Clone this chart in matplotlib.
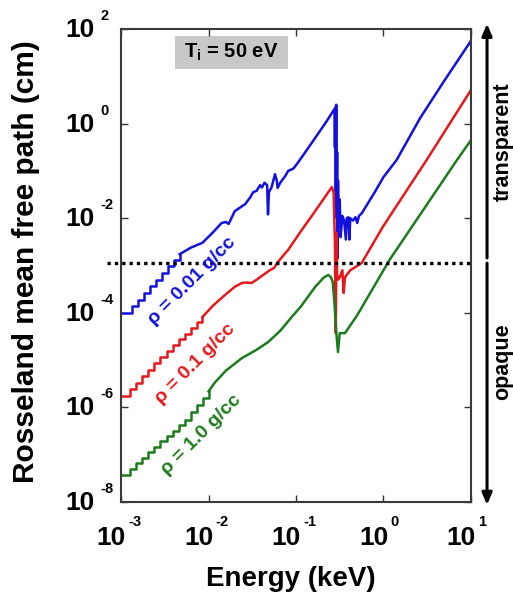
import numpy as np
import matplotlib
matplotlib.use('Agg')
import matplotlib.pyplot as plt
from matplotlib.patches import Rectangle
from matplotlib.ticker import NullLocator

plt.rcParams['font.family'] = ['Liberation Sans', 'DejaVu Sans']
plt.rcParams['font.weight'] = 'bold'
plt.rcParams['mathtext.fontset'] = 'custom'
plt.rcParams['mathtext.rm'] = 'Liberation Sans:bold'
plt.rcParams['mathtext.it'] = 'Liberation Sans:bold'
plt.rcParams['mathtext.bf'] = 'Liberation Sans:bold'

# all values are log10(energy / keV) and log10(mean free path / cm)

# rho = 0.01 g/cc
blue_step_e = [-3.0, -2.88, -2.81, -2.74, -2.67, -2.60, -2.53, -2.46, -2.39, -2.33]
blue_step_l = [-4.0, -3.86, -3.72, -3.58, -3.44, -3.30, -3.16, -3.02, -2.88, -2.76]
blue_e = [-2.33, -2.20, -2.07, -1.95, -1.85, -1.80, -1.77, -1.70, -1.62, -1.58, -1.52,
          -1.49, -1.45, -1.41, -1.39, -1.36, -1.33, -1.32, -1.31, -1.28, -1.24, -1.22,
          -1.21, -1.18, -1.12, -1.09, -1.03, -0.98, -0.90, -0.78, -0.65, -0.56, -0.555,
          -0.55, -0.545, -0.54, -0.535, -0.53, -0.525, -0.52, -0.51, -0.50, -0.49, -0.47,
          -0.45, -0.43, -0.42, -0.40, -0.39, -0.38, -0.35, -0.32, -0.30, -0.28, -0.25,
          -0.20, -0.10, 0.0, 0.15, 0.42, 0.70, 1.0]
blue_l = [-2.76, -2.62, -2.52, -2.30, -2.10, -2.08, -2.12, -1.85, -1.75, -1.70, -1.55,
          -1.45, -1.42, -1.30, -1.35, -1.25, -1.30, -1.92, -1.45, -1.35, -1.07, -1.20,
          -1.36, -1.25, -1.10, -1.00, -0.95, -0.83, -0.62, -0.30, 0.05, 0.31, -0.50,
          0.35, -1.50, 0.40, -2.00, -0.60, -2.85, -1.20, -2.20, -1.60, -2.40, -1.95,
          -2.05, -2.45, -2.00, -1.98, -2.45, -2.00, -2.05, -1.98, -2.10, -1.95, -1.90,
          -1.75, -1.45, -1.13, -0.77, 0.12, 0.92, 1.75]

# rho = 0.1 g/cc
red_step_e = [-3.0, -2.90, -2.83, -2.76, -2.69, -2.62, -2.55, -2.48, -2.41, -2.34,
              -2.27, -2.20, -2.13, -2.07]
red_step_l = [-5.76, -5.62, -5.48, -5.34, -5.20, -5.07, -4.94, -4.81, -4.68, -4.56,
              -4.44, -4.32, -4.20, -4.09]
red_e = [-2.07, -1.95, -1.81, -1.70, -1.62, -1.57, -1.51, -1.45, -1.39, -1.30, -1.25,
         -1.21, -1.09, -0.95, -0.80, -0.59, -0.57, -0.555, -0.545, -0.54, -0.535, -0.53,
         -0.52, -0.50, -0.47, -0.455, -0.44, -0.38, -0.25, -0.01, 0.50, 1.0]
red_l = [-4.09, -3.85, -3.62, -3.45, -3.37, -3.36, -3.37, -3.30, -3.22, -3.10, -3.05,
         -2.93, -2.67, -2.29, -1.90, -1.34, -1.45, -2.50, -4.43, -3.00, -2.31, -3.20,
         -3.30, -3.25, -3.10, -3.58, -3.25, -3.10, -2.95, -2.19, -0.75, 0.71]

# rho = 1.0 g/cc
green_step_e = [-3.0, -2.90, -2.83, -2.76, -2.69, -2.62, -2.55, -2.48, -2.41, -2.34,
                -2.27, -2.20, -2.13, -2.06, -2.0]
green_step_l = [-7.43, -7.30, -7.18, -7.06, -6.95, -6.84, -6.72, -6.60, -6.49, -6.38,
                -6.26, -6.10, -5.95, -5.80, -5.66]
green_e = [-2.0, -1.93, -1.80, -1.62, -1.45, -1.32, -1.18, -1.05, -0.95, -0.78, -0.68,
           -0.63, -0.60, -0.58, -0.56, -0.54, -0.52, -0.50, -0.44, -0.30, 0.07, 0.84, 1.0]
green_l = [-5.66, -5.48, -5.22, -4.96, -4.78, -4.62, -4.38, -4.09, -3.88, -3.45, -3.25,
           -3.20, -3.25, -3.35, -3.80, -4.40, -4.83, -4.43, -4.43, -4.05, -2.88, -0.77, -0.35]

labels = ['\u03c1 = 0.01 g/cc', '\u03c1 = 0.1 g/cc', '\u03c1 = 1.0 g/cc']
label_pos = [(-2.25, -3.22), (-2.21, -4.98), (-2.14, -6.48)]
colors = ['#1212dc', '#e5191c', '#1c7c1c']

threshold = 10 ** -2.95
x_exps = [-3, -2, -1, 0, 1]
y_exps = [-8, -6, -4, -2, 0, 2]

fig = plt.figure(figsize=(5.13, 5.93), dpi=100)
ax = fig.add_axes([0.236, 0.1535, 0.682, 0.7975])

series = [(blue_step_e, blue_step_l, blue_e, blue_l),
          (red_step_e, red_step_l, red_e, red_l),
          (green_step_e, green_step_l, green_e, green_l)]
for (se, sl, me, ml), c in zip(series, colors):
    ax.plot(10 ** np.array(se), 10 ** np.array(sl), color=c, lw=1.8, drawstyle='steps-post')
    ax.plot(10 ** np.array(me), 10 ** np.array(ml), color=c, lw=1.8)

# density labels sit just under each staircase
for txt, (le, ll), c in zip(labels, label_pos, colors):
    ax.annotate(txt, xy=(10 ** le, 10 ** ll), xytext=(5, -5), textcoords='offset pixels',
                color=c, fontsize=14, rotation=45, rotation_mode='anchor',
                ha='center', va='center')

ax.set_xscale('log')
ax.set_yscale('log')
ax.set_xlim(10.0 ** x_exps[0], 10.0 ** x_exps[-1])
ax.set_ylim(10.0 ** y_exps[0], 10.0 ** y_exps[-1])
ax.set_xticks([10.0 ** k for k in x_exps])
ax.set_yticks([10.0 ** k for k in y_exps])
ax.xaxis.set_minor_locator(NullLocator())
ax.yaxis.set_minor_locator(NullLocator())
ax.tick_params(direction='in', top=True, right=True, length=5, width=1,
               color='#333333', labelbottom=False, labelleft=False)
for sp in ax.spines.values():
    sp.set_color('#3a3a3a')
    sp.set_linewidth(1.5)

# tick labels written as "10" plus a small exponent
for k in x_exps:
    ax.annotate('10', xy=(10.0 ** k, 0), xycoords=ax.get_xaxis_transform(),
                xytext=(5, -36), textcoords='offset pixels', ha='right', va='center',
                fontsize=19, annotation_clip=False)
    ax.annotate(str(k), xy=(10.0 ** k, 0), xycoords=ax.get_xaxis_transform(),
                xytext=(7, -20), textcoords='offset pixels', ha='left', va='center',
                fontsize=10.5, annotation_clip=False)
for k in y_exps:
    ax.annotate('10', xy=(0, 10.0 ** k), xycoords=ax.get_yaxis_transform(),
                xytext=(-26, -1), textcoords='offset pixels', ha='right', va='center',
                fontsize=19, annotation_clip=False)
    ax.annotate(str(k), xy=(0, 10.0 ** k), xycoords=ax.get_yaxis_transform(),
                xytext=(-21, 13), textcoords='offset pixels', ha='left', va='center',
                fontsize=10.5, annotation_clip=False)

# transparent / opaque threshold
ax.plot([-0.04, 1.005], [threshold, threshold], transform=ax.get_yaxis_transform(),
        color='black', lw=2.4, ls=(0, (1, 1.2)), clip_on=False)

ax.add_patch(Rectangle((0.154, 0.915), 0.323, 0.07, transform=ax.transAxes,
                       facecolor='#c8c8c8', edgecolor='none'))
ax.text(0.316, 0.951, r'T$_\mathrm{i}$ = 50 eV', transform=ax.transAxes,
        ha='center', va='center', fontsize=14.5)

arrow = dict(arrowstyle='-|>,head_length=0.7,head_width=0.3', lw=2.2, color='black',
             shrinkA=0, shrinkB=0)
ax.annotate('', xy=(1.046, 1.011), xytext=(1.046, 0.516), xycoords='axes fraction',
            arrowprops=arrow, annotation_clip=False)
ax.annotate('', xy=(1.046, -0.006), xytext=(1.046, 0.505), xycoords='axes fraction',
            arrowprops=arrow, annotation_clip=False)
ax.text(1.091, 0.761, 'transparent', transform=ax.transAxes, rotation=90,
        ha='center', va='center', fontsize=15.5)
ax.text(1.091, 0.296, 'opaque', transform=ax.transAxes, rotation=90,
        ha='center', va='center', fontsize=15.5)

fig.text(0.567, 0.024, 'Energy (keV)', ha='center', va='center', fontsize=20)
fig.text(0.05, 0.558, 'Rosseland mean free path (cm)', rotation=90,
         ha='center', va='center', fontsize=21.5)

fig.savefig('out.png', dpi=100)
